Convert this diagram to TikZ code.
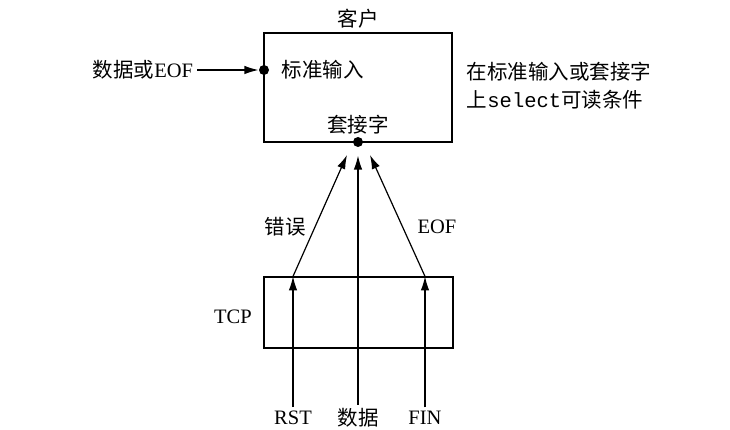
\documentclass[tikz,border=0pt]{standalone}
\usepackage{fontspec}
\setmainfont{Liberation Serif}
\setmonofont{Liberation Mono}
\newfontfamily\cjk{Noto Sans CJK SC}
\usetikzlibrary{arrows.meta}
\begin{document}
\begin{tikzpicture}[x=1pt,y=-1pt,line width=1.2pt,
    font=\fontsize{20.5}{24}\selectfont,
    arr/.style={-{Latex[length=14pt,width=8.5pt]}},
    dot/.style={circle,fill,inner sep=0pt,minimum size=10pt},
    box/.style={draw,inner sep=0pt}]
    \useasboundingbox (0,0) rectangle (730,430);

    % Client process
    \node[box,minimum width=188pt,minimum height=109pt] (client) at (358,87.5) {};
    \node[above] (clientlbl) at (client.north) {\cjk 客户};
    \node[dot] (stdin) at (264,70) {};
    \node[dot] (sock) at (358,142) {};
    \node[anchor=west] (stdinlbl) at (278,70) {\cjk 标准输入};
    \node (socklbl) at (358,125) {\cjk 套接字};

    % Input to stdin
    \node[anchor=east] (dataeof) at (197,70) {{\cjk 数据或}EOF};
    \draw[arr] (dataeof.east) -- (stdin.west);

    % Note on the right
    \node[anchor=west] (note1) at (463,72) {\cjk 在标准输入或套接字};
    \node[anchor=west] (note2) at (463,100) {{\cjk 上}\texttt{select}{\cjk 可读条件}};

    % TCP
    \node[box,minimum width=189pt,minimum height=71pt] (tcp) at (358.5,312.5) {};
    \node (tcplbl) at (233,317) {TCP};

    % Segments arriving
    \node (rst) at (293,418) {RST};
    \node (data) at (358,418) {\cjk 数据};
    \node (fin) at (425,418) {FIN};
    \coordinate (errtip) at (347,155);
    \coordinate (eoftip) at (370,155);
    \draw[arr] (rst.north) -- (rst |- tcp.north);
    \draw[arr] (fin.north) -- (fin |- tcp.north);
    \draw[arr] (rst |- tcp.north) -- (errtip);
    \draw[arr] (fin |- tcp.north) -- (eoftip);
    \draw[arr,shorten >=8pt] (data.north) -- (sock);
    \node (errlbl) at (285,227) {\cjk 错误};
    \node (eoflbl) at (437,227) {EOF};
\end{tikzpicture}
\end{document}
